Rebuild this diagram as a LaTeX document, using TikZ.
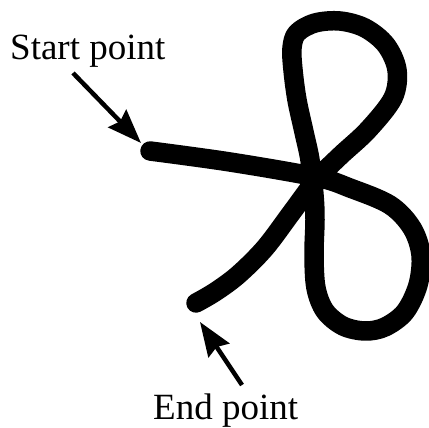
\documentclass[tikz,border=0pt]{standalone}
\usepackage{fontspec}
\setmainfont{Liberation Serif}
\usetikzlibrary{arrows.meta}
\begin{document}
\begin{tikzpicture}[x=1pt,y=-1pt,
  lbl/.style={inner sep=0pt,font=\fontsize{37pt}{40pt}\selectfont,anchor=base west},
  pointer/.style={line width=4.5pt,-{Stealth[length=34pt,width=25pt,inset=4pt]}},
  rope/.style={line width=19.5pt,line cap=round,line join=round}]
\useasboundingbox (0,0) rectangle (429,428);
\coordinate (cs) at (150,151);
\coordinate (ce) at (196,303);
\draw[rope] plot[smooth,tension=0.55] coordinates {
 (150,151) (230,162) (316,177) (350,188) (390,205) (412,228) (421,255)
 (418,285) (405,312) (385,327) (365,331) (343,326) (325,311) (316,288)
 (314,255) (315,220) (314,195) (310,160) (304,132) (297,100) (293,70)
 (292,48) (297,33) (315,23) (340,21) (365,28) (386,45) (397,70)
 (393,98) (368,130) (340,156) (316,180) (292,212) (265,248) (238,275)
 (215,292) (196,303)};
\coordinate (sa) at (73,73);
\coordinate (sb) at (141,143);
\coordinate (ea) at (242,385);
\coordinate (eb) at (200,322);
\draw[pointer] (sa) -- (sb);
\draw[pointer] (ea) -- (eb);
\node[lbl] (st) at (10,60) {Start point};
\node[lbl] (en) at (153,419) {End point};
\end{tikzpicture}
\end{document}
